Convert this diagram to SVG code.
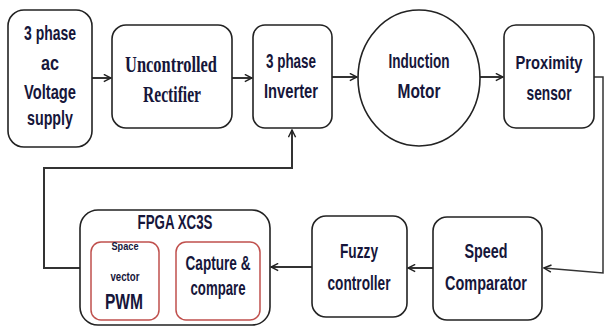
<svg xmlns="http://www.w3.org/2000/svg" width="604" height="327" viewBox="0 0 604 327">
<defs>
<style>
.box{fill:#fff;stroke:#222;stroke-width:1.6}
.red{fill:#fff;stroke:#c0504d;stroke-width:1.5}
.ln{fill:none;stroke:#333;stroke-width:2}
.t{font-family:"Liberation Sans",Arial,sans-serif;font-weight:bold;font-size:21px;fill:#16163a;text-anchor:middle}
.s{font-family:"Liberation Serif","Times New Roman",serif;font-weight:bold;font-size:24px;fill:#16163a;text-anchor:middle}
</style>
<marker id="ar" viewBox="0 0 10 10" refX="9" refY="5" markerWidth="9" markerHeight="9" markerUnits="userSpaceOnUse" orient="auto">
<path d="M1,1 L9,5 L1,9" fill="none" stroke="#222" stroke-width="1.6"/>
</marker>
</defs>
<rect width="604" height="327" fill="#fff"/>
<g id="connectors">
<line class="ln" x1="92" y1="78" x2="111" y2="78" marker-end="url(#ar)"/>
<line class="ln" x1="232" y1="78" x2="252" y2="78" marker-end="url(#ar)"/>
<line class="ln" x1="332" y1="77" x2="357" y2="77" marker-end="url(#ar)"/>
<line class="ln" x1="480" y1="77" x2="503" y2="77" marker-end="url(#ar)"/>
<polyline class="ln" style="stroke-width:1.5" points="594,77 603,77 603,273 544,268" marker-end="url(#ar)"/>
<line class="ln" x1="433" y1="268" x2="408" y2="268" marker-end="url(#ar)"/>
<line class="ln" x1="312" y1="267" x2="271" y2="267" marker-end="url(#ar)"/>
<polyline class="ln" points="80,268 44,268 44,168 292,168 292,130" marker-end="url(#ar)"/>
</g>
<g id="supply">
<rect class="box" x="8" y="10" width="84" height="137" rx="16"/>
<text class="t" x="50" y="40" textLength="52" lengthAdjust="spacingAndGlyphs">3 phase</text>
<text class="t" x="50" y="70" textLength="18" lengthAdjust="spacingAndGlyphs">ac</text>
<text class="t" x="50" y="99" textLength="52" lengthAdjust="spacingAndGlyphs">Voltage</text>
<text class="t" x="50" y="125" textLength="46" lengthAdjust="spacingAndGlyphs">supply</text>
</g>
<g id="rectifier">
<rect class="box" x="112" y="25" width="120" height="103" rx="14"/>
<text class="s" x="171" y="72" textLength="92" lengthAdjust="spacingAndGlyphs">Uncontrolled</text>
<text class="s" x="172" y="102" textLength="58" lengthAdjust="spacingAndGlyphs">Rectifier</text>
</g>
<g id="inverter">
<rect class="box" x="253" y="25" width="79" height="103" rx="12"/>
<text class="t" x="291" y="68" textLength="50" lengthAdjust="spacingAndGlyphs">3 phase</text>
<text class="t" x="291" y="98" textLength="54" lengthAdjust="spacingAndGlyphs">Inverter</text>
</g>
<g id="motor">
<ellipse class="box" cx="419" cy="78" rx="61" ry="68"/>
<text class="t" x="419" y="68" textLength="61" lengthAdjust="spacingAndGlyphs">Induction</text>
<text class="t" x="419" y="98" textLength="43" lengthAdjust="spacingAndGlyphs">Motor</text>
</g>
<g id="sensor">
<rect class="box" x="504" y="25" width="90" height="103" rx="12"/>
<text class="t" style="font-size:19px" x="549" y="69" textLength="67" lengthAdjust="spacingAndGlyphs">Proximity</text>
<text class="t" x="549" y="100" textLength="45" lengthAdjust="spacingAndGlyphs">sensor</text>
</g>
<g id="comparator">
<rect class="box" x="433" y="217" width="109" height="103" rx="14"/>
<text class="t" x="486" y="258" textLength="43" lengthAdjust="spacingAndGlyphs">Speed</text>
<text class="t" x="486" y="290" textLength="82" lengthAdjust="spacingAndGlyphs">Comparator</text>
</g>
<g id="fuzzy">
<rect class="box" x="312" y="216" width="95" height="101" rx="14"/>
<text class="t" x="359" y="258" textLength="38" lengthAdjust="spacingAndGlyphs">Fuzzy</text>
<text class="t" x="359" y="290" textLength="63" lengthAdjust="spacingAndGlyphs">controller</text>
</g>
<g id="fpga">
<rect class="box" x="80" y="210" width="190" height="115" rx="18"/>
<text class="t" x="175" y="229" textLength="75" lengthAdjust="spacingAndGlyphs">FPGA XC3S</text>
<g id="svpwm">
<rect class="red" x="91" y="242" width="68" height="78" rx="10"/>
<text class="t" style="font-size:11px" x="125" y="250" textLength="27" lengthAdjust="spacingAndGlyphs">Space</text>
<text class="t" style="font-size:12px" x="125" y="281" textLength="29" lengthAdjust="spacingAndGlyphs">vector</text>
<text class="t" style="font-size:22px" x="124" y="309" textLength="38" lengthAdjust="spacingAndGlyphs">PWM</text>
</g>
<g id="capture">
<rect class="red" x="176" y="242" width="84" height="78" rx="10"/>
<text class="t" x="218" y="270" textLength="65" lengthAdjust="spacingAndGlyphs">Capture &amp;</text>
<text class="t" x="218" y="295" textLength="55" lengthAdjust="spacingAndGlyphs">compare</text>
</g>
</g>
</svg>
